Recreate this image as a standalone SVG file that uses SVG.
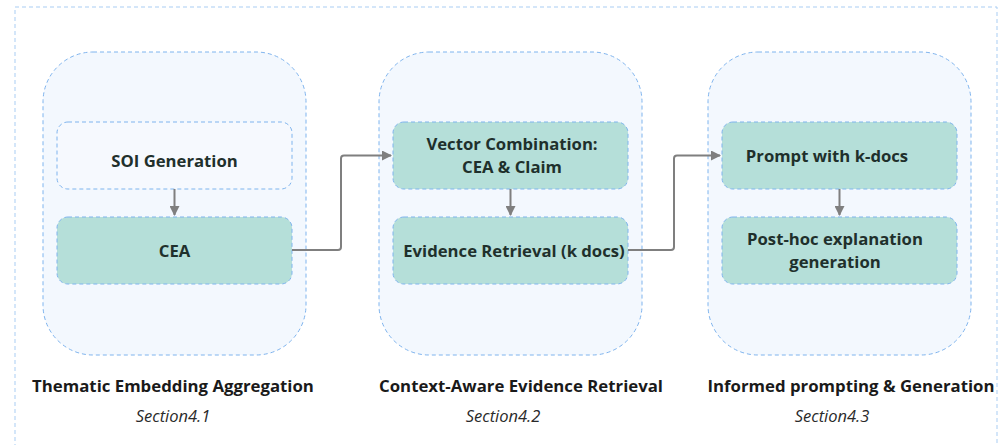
<svg xmlns="http://www.w3.org/2000/svg" width="1003" height="445" viewBox="0 0 1003 445">
  <style>
    .frame { fill: #ffffff; stroke: #a9cdf3; stroke-width: 1; stroke-dasharray: 4 3; }
    .panel { fill: #f3f8fe; stroke: #7fb4ee; stroke-width: 1; stroke-dasharray: 4 3; }
    .box-light { fill: #f6f9fe; stroke: #7fb4ee; stroke-width: 1; stroke-dasharray: 4 3; }
    .box { fill: #b5dfd9; stroke: #7fb4ee; stroke-width: 1; stroke-dasharray: 4 3; }
    .node-text { font-family: "Open Sans", "Noto Sans", sans-serif; font-weight: 700; font-size: 16.7px; fill: #1f302c; text-anchor: middle; }
    .title { font-family: "Open Sans", "Noto Sans", sans-serif; font-weight: 700; font-size: 16.8px; fill: #1a1a1a; text-anchor: middle; }
    .section { font-family: "Open Sans", "Noto Sans", sans-serif; font-style: italic; font-size: 16.5px; fill: #2a2a2a; text-anchor: middle; }
    .link { fill: none; stroke: #7f7f7f; stroke-width: 2; stroke-linejoin: round; }
  </style>
  <defs>
    <marker id="arrow" viewBox="0 0 10 10" refX="9" refY="5" markerWidth="5" markerHeight="5" orient="auto" markerUnits="strokeWidth">
      <path d="M0,0 L10,5 L0,10 Z" fill="#7f7f7f"/>
    </marker>
  </defs>

  <!-- outer frame -->
  <rect class="frame" x="15" y="7" width="982" height="460"/>

  <!-- stage 1 -->
  <g id="stage1">
    <rect class="panel" x="43" y="52" width="263" height="303" rx="50" ry="50"/>
    <text class="title" x="173" y="392">Thematic Embedding Aggregation</text>
    <text class="section" x="173" y="422">Section4.1</text>
  </g>
  <g id="soi">
    <rect class="box-light" x="57" y="122" width="235" height="67" rx="11" ry="11"/>
    <text class="node-text" x="174.5" y="167">SOI Generation</text>
  </g>
  <g id="cea">
    <rect class="box" x="57" y="217" width="235" height="67" rx="11" ry="11"/>
    <text class="node-text" x="174.5" y="257">CEA</text>
  </g>

  <!-- stage 2 -->
  <g id="stage2">
    <rect class="panel" x="379" y="52" width="263" height="303" rx="50" ry="50"/>
    <text class="title" x="521" y="392">Context-Aware Evidence Retrieval</text>
    <text class="section" x="503" y="422">Section4.2</text>
  </g>
  <g id="vector">
    <rect class="box" x="393" y="122" width="235" height="67" rx="11" ry="11"/>
    <text class="node-text" x="512" y="150">Vector Combination:</text>
    <text class="node-text" x="512" y="173">CEA &amp; Claim</text>
  </g>
  <g id="retrieval">
    <rect class="box" x="393" y="217" width="235" height="67" rx="11" ry="11"/>
    <text class="node-text" x="514" y="257">Evidence Retrieval (k docs)</text>
  </g>

  <!-- stage 3 -->
  <g id="stage3">
    <rect class="panel" x="708" y="52" width="263" height="303" rx="50" ry="50"/>
    <text class="title" x="851" y="392">Informed prompting &amp; Generation</text>
    <text class="section" x="832" y="422">Section4.3</text>
  </g>
  <g id="prompt">
    <rect class="box" x="722" y="122" width="235" height="67" rx="11" ry="11"/>
    <text class="node-text" x="827" y="162">Prompt with k-docs</text>
  </g>
  <g id="posthoc">
    <rect class="box" x="722" y="217" width="235" height="67" rx="11" ry="11"/>
    <text class="node-text" x="835" y="245">Post-hoc explanation</text>
    <text class="node-text" x="835" y="268">generation</text>
  </g>

  <!-- connectors -->
  <g id="connectors">
    <path class="link" d="M174.5,189 V215" stroke-width="1.5" marker-end="url(#arrow)"/>
    <path class="link" d="M510.5,189 V215" stroke-width="1.5" marker-end="url(#arrow)"/>
    <path class="link" d="M839.5,189 V215" stroke-width="1.5" marker-end="url(#arrow)"/>
    <path class="link" d="M292,250 H338 Q341,250 341,247 V158.5 Q341,155.5 344,155.5 H391" marker-end="url(#arrow)"/>
    <path class="link" d="M628,250 H671 Q674,250 674,247 V158.5 Q674,155.5 677,155.5 H720" marker-end="url(#arrow)"/>
  </g>
</svg>
